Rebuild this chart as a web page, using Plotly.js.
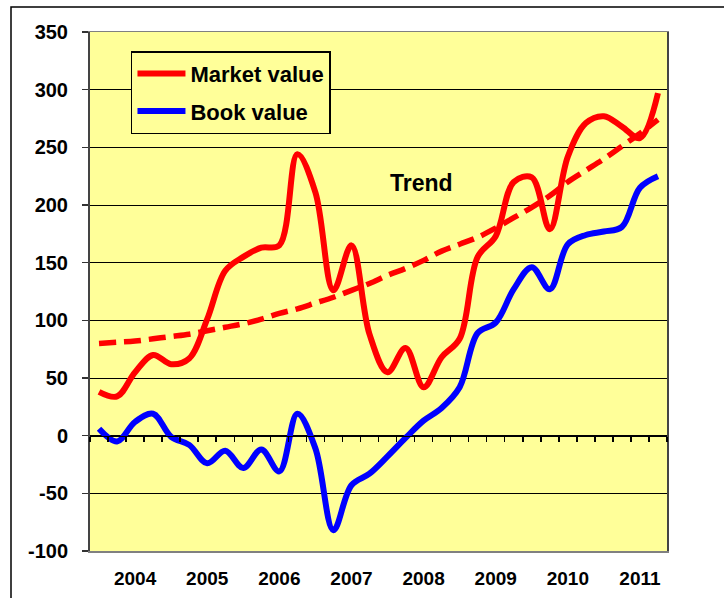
<!DOCTYPE html>
<html>
<head>
<meta charset="utf-8">
<script src="https://cdn.plot.ly/plotly-3.0.1.min.js"></script>
<style>
  html, body { margin: 0; padding: 0; background: #ffffff; }
  #chart { width: 724px; height: 598px; }
</style>
</head>
<body>
<div id="chart"></div>
<script>
// quarterly values, 2004 .. 2011
const market_value = [38, 34, 55, 70, 62, 67, 101, 143, 155, 163, 165, 244, 211, 126, 165, 88,
    55, 76, 42, 68, 84, 155, 173, 220, 224, 179, 242, 271, 277, 268, 258, 297];
const book_value = [6, -5, 12, 19, -1, -8, -24, -13, -28, -12, -31, 19, -11, -82, -43, -33,
    -18, -2, 13, 24, 42, 89, 98, 127, 146, 127, 166, 174, 177, 181, 215, 225];
const trend_value = [80, 81, 82, 84, 86, 88, 91, 94, 97, 101, 106, 110, 115, 120, 126, 132,
    139, 145, 152, 160, 166, 172, 180, 189, 198, 208, 220, 230, 240, 251, 262, 274];
const years = ["2004", "2005", "2006", "2007", "2008", "2009", "2010", "2011"];
const y_ticks = [-100, -50, 0, 50, 100, 150, 200, 250, 300, 350];

const font_family = "Liberation Sans, Arial, sans-serif";
const plot_yellow = "#FFFF99";

// one slot per quarter
const quarters = market_value.map((v, i) => i);
// year label sits under the 3rd quarter of each year
const year_ticks = years.map((y, i) => i * 4 + 2);
// small tick marks between quarters on the zero line
const quarter_bounds = [];
for (let k = 0; k <= quarters.length; k++) quarter_bounds.push(k - 0.5);

function make_chart(div) {
    const data = [
        {
            type: "scatter",
            mode: "lines",
            name: "Trend",
            x: quarters,
            y: trend_value,
            line: { color: "#FF0000", width: 5.5, dash: "17px,8px", shape: "spline" },
            showlegend: false,
            hoverinfo: "skip",
        },
        {
            type: "scatter",
            mode: "lines",
            name: "Market value",
            legendgroup: "market",
            x: quarters,
            y: market_value,
            line: { color: "#FF0000", width: 6, shape: "spline" },
        },
        {
            type: "scatter",
            mode: "lines",
            name: "Book value",
            legendgroup: "book",
            x: quarters,
            y: book_value,
            line: { color: "#0000FF", width: 6, shape: "spline" },
        },
        // keeps the zero-line axis alive
        { type: "scatter", x: [], y: [], xaxis: "x2", showlegend: false, hoverinfo: "skip" },
    ];
    const layout = {
        width: 724,
        height: 598,
        margin: { l: 90, r: 57, t: 32, b: 47, pad: 0 },
        paper_bgcolor: "#ffffff",
        plot_bgcolor: plot_yellow,
        font: { family: font_family, weight: "bold", color: "#000000", size: 19 },
        xaxis: {
            range: [-0.5, quarters.length - 0.5],
            tickvals: year_ticks,
            ticktext: years,
            ticks: "",
            ticklabelstandoff: 10,
            showgrid: false,
            zeroline: false,
            showline: true,
            linecolor: "#808080",
            linewidth: 1.5,
            mirror: true,
            tickfont: { size: 19, weight: "bold" },
            fixedrange: true,
        },
        xaxis2: {
            overlaying: "x",
            anchor: "free",
            position: 100 / 450,
            range: [-0.5, quarters.length - 0.5],
            tickvals: quarter_bounds,
            showticklabels: false,
            ticks: "outside",
            ticklen: 5,
            tickwidth: 1.5,
            tickcolor: "#000000",
            showgrid: false,
            zeroline: false,
            showline: true,
            linecolor: "#000000",
            linewidth: 1.5,
            fixedrange: true,
        },
        yaxis: {
            range: [-100, 350],
            tickvals: y_ticks,
            ticktext: y_ticks.map(v => String(v)),
            ticks: "outside",
            ticklen: 6,
            tickwidth: 1.5,
            tickcolor: "#333333",
            ticklabelstandoff: 10,
            showgrid: true,
            gridcolor: "#000000",
            gridwidth: 1,
            zeroline: false,
            showline: true,
            linecolor: "#444444",
            linewidth: 2,
            mirror: true,
            tickfont: { size: 20, weight: "bold" },
            fixedrange: true,
        },
        showlegend: true,
        legend: {
            x: 0.071,
            y: 0.963,
            xanchor: "left",
            yanchor: "top",
            traceorder: "grouped",
            tracegroupgap: 6,
            bgcolor: plot_yellow,
            bordercolor: "#000000",
            borderwidth: 1.5,
            itemwidth: 48,
            font: { size: 22, weight: "bold", family: font_family },
        },
        annotations: [
            {
                x: 17.9,
                y: 219,
                xref: "x",
                yref: "y",
                text: "Trend",
                showarrow: false,
                font: { size: 23, weight: "bold", family: font_family },
            },
        ],
        shapes: [
            // outer frame, runs off the right and bottom edges
            {
                type: "rect",
                xref: "paper",
                yref: "paper",
                x0: (11 - 90) / 577,
                x1: (740 - 90) / 577,
                y0: -0.2,
                y1: (551 - 7) / 519,
                line: { color: "#000000", width: 1.5 },
                layer: "below",
            },
        ],
    };
    const config = {
        displayModeBar: false,
        staticPlot: true,
    };
    Plotly.newPlot(div, data, layout, config);
}

make_chart("chart");
</script>
</body>
</html>
